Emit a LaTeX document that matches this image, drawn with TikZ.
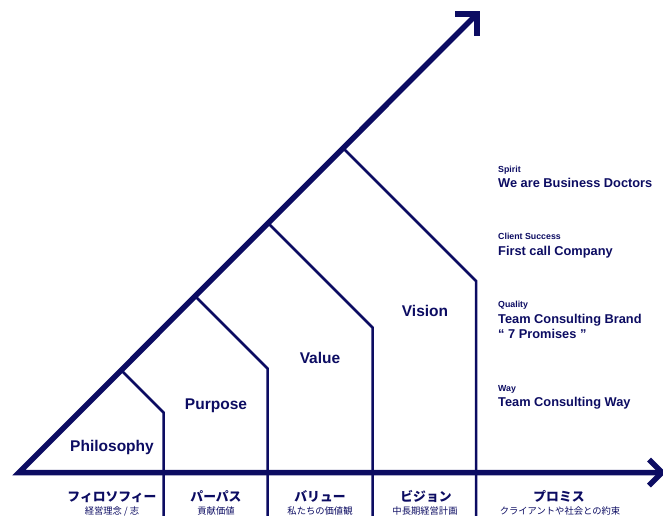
\documentclass[tikz,border=0pt]{standalone}
\usepackage{fontspec}
\setmainfont{Liberation Sans}
\newfontfamily\cjk{Noto Sans CJK JP}
\definecolor{navy}{RGB}{12,12,98}
\tikzset{
  thickax/.style={line width=5.5pt, draw=navy, line join=miter, line cap=butt},
  stepline/.style={line width=2.5pt, draw=navy, line join=miter},
  blocklbl/.style={font=\bfseries\fontsize{15.5}{18}\selectfont, text=navy, inner sep=0pt, anchor=base},
  smallhead/.style={font=\bfseries\fontsize{8.8}{10}\selectfont, text=navy, inner sep=0pt, anchor=base west},
  bighead/.style={font=\bfseries\fontsize{12.8}{15}\selectfont, text=navy, inner sep=0pt, anchor=base west},
  jpmain/.style={font=\cjk\bfseries\fontsize{12.8}{14}\selectfont, text=navy, inner sep=0pt, anchor=base},
  jpsub/.style={font=\cjk\fontsize{9.3}{10}\selectfont, text=navy, inner sep=0pt, anchor=base}
}
\begin{document}
\begin{tikzpicture}[x=1pt,y=-1pt]
\useasboundingbox (0,0) rectangle (663,515);
\clip (0,0) rectangle (663,515);
% key points
\coordinate (O) at (19,472.5);
\coordinate (T) at (477,14);
\coordinate (R) at (662,472.5);
\coordinate (P1) at (121,370);
\coordinate (C1) at (163.5,412.5);
\coordinate (B1) at (163.5,520);
\coordinate (P2) at (195,296);
\coordinate (C2) at (267.5,368.5);
\coordinate (B2) at (267.5,520);
\coordinate (P3) at (268,223);
\coordinate (C3) at (372.5,327.5);
\coordinate (B3) at (372.5,520);
\coordinate (P4) at (343,148);
\coordinate (C4) at (476,281);
\coordinate (B4) at (476,520);
\coordinate (TA1) at (455,14);
\coordinate (TA2) at (477,36);
\coordinate (RA1) at (649,459.5);
\coordinate (RA2) at (649,485.5);
% step outlines
\draw[stepline] (P1) -- (C1) -- (B1);
\draw[stepline] (P2) -- (C2) -- (B2);
\draw[stepline] (P3) -- (C3) -- (B3);
\draw[stepline] (P4) -- (C4) -- (B4);
% axes
\draw[thickax] (T) -- (O) -- (R);
\draw[thickax] (TA1) -- (T) -- (TA2);
\draw[thickax] (RA1) -- (R) -- (RA2);
% block labels
\node[blocklbl] (philosophy) at (112,451) {Philosophy};
\node[blocklbl] (purpose) at (216,409) {Purpose};
\node[blocklbl] (value) at (320,363) {Value};
\node[blocklbl] (vision) at (425,316) {Vision};
% right side texts
\node[smallhead] (spirit) at (498,172) {Spirit};
\node[bighead] (spiritt) at (498,187) {We are Business Doctors};
\node[smallhead] (client) at (498,239) {Client Success};
\node[bighead] (clientt) at (498,255) {First call Company};
\node[smallhead] (quality) at (498,307) {Quality};
\node[bighead] (qualityt) at (498,323) {Team Consulting Brand};
\node[bighead] (qualityu) at (498,338) {“ 7 Promises ”};
\node[smallhead] (way) at (498,391) {Way};
\node[bighead] (wayt) at (498,406) {Team Consulting Way};
% bottom labels
\node[jpmain] (jp1) at (112,501) {フィロソフィー};
\node[jpmain] (jp2) at (216,501) {パーパス};
\node[jpmain] (jp3) at (320,501) {バリュー};
\node[jpmain] (jp4) at (426,501) {ビジョン};
\node[jpmain] (jp5) at (559,501) {プロミス};
\node[jpsub] (js1) at (112,514) {経営理念 / 志};
\node[jpsub] (js2) at (216,514) {貢献価値};
\node[jpsub] (js3) at (320,514) {私たちの価値観};
\node[jpsub] (js4) at (425,514) {中長期経営計画};
\node[jpsub] (js5) at (560,514) {クライアントや社会との約束};
\end{tikzpicture}
\end{document}
